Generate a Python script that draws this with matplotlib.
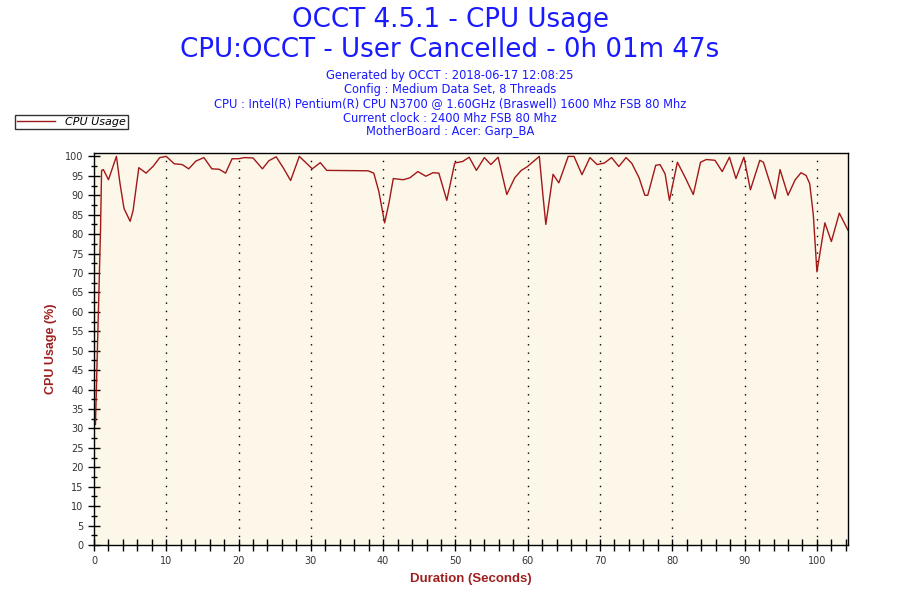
import numpy as np
import matplotlib.pyplot as plt
from matplotlib.ticker import MultipleLocator

# CPU usage samples (seconds, percent)
seconds = [0.2, 0.9, 1.05, 1.3, 2.0, 3.1, 3.6, 4.15, 5.0, 5.4, 6.2, 7.2, 8.2, 9.1, 10.0,
           11.1, 12.2, 13.1, 14.1, 15.2, 16.3, 17.3, 18.2, 19.1, 20.0, 20.8, 22.0, 23.3,
           24.2, 25.2, 26.2, 27.2, 28.4, 30.2, 31.3, 32.2, 37.9, 38.7, 39.4, 40.2, 40.8,
           41.4, 42.8, 43.7, 44.8, 45.9, 46.9, 47.7, 48.8, 49.9, 51.0, 51.9, 52.9, 54.0,
           54.9, 55.9, 57.1, 58.2, 59.1, 59.9, 61.6, 62.1, 62.5, 63.5, 64.3, 65.6, 66.4,
           67.5, 68.6, 69.6, 70.6, 71.6, 72.6, 73.6, 74.4, 75.4, 76.2, 76.6, 77.7, 78.3,
           79.0, 79.6, 80.7, 81.8, 82.9, 83.9, 84.7, 85.9, 86.9, 87.9, 88.8, 89.9, 90.8,
           92.1, 92.6, 94.2, 94.9, 96.0, 97.0, 97.8, 98.5, 99.0, 99.5, 100.0, 101.1, 102.0,
           103.1, 104.3]
usage = [31, 81, 96.4, 96.6, 94.0, 100, 93, 86.6, 83.3, 86, 97.1, 95.7, 97.5, 99.7, 100,
         98.1, 97.9, 96.8, 98.8, 99.7, 96.8, 96.7, 95.7, 99.4, 99.4, 99.7, 99.6, 96.8,
         98.9, 99.9, 97, 93.8, 100, 96.8, 98.4, 96.4, 96.3, 95.7, 91, 82.9, 88, 94.3,
         94.0, 94.5, 96.1, 94.9, 95.8, 95.7, 88.7, 98.3, 98.7, 99.8, 96.4, 99.7, 97.9,
         99.8, 90.2, 94.5, 96.4, 97.3, 100, 90, 82.5, 95.4, 93.2, 100, 100, 95.3, 99.7,
         97.9, 98.3, 99.7, 97.4, 99.7, 98.2, 94.5, 90.0, 90.0, 97.7, 97.9, 95.5, 88.7,
         98.5, 94.5, 90.2, 98.5, 99.2, 99.0, 96.1, 99.8, 94.3, 99.8, 91.4, 99.0, 98.5,
         89.1, 96.6, 90.0, 94.0, 95.8, 95.1, 93.0, 85, 70.3, 82.9, 78.1, 85.4, 81.0]

title_lines = ["OCCT 4.5.1 - CPU Usage", "CPU:OCCT - User Cancelled - 0h 01m 47s"]
info_lines = ["Generated by OCCT : 2018-06-17 12:08:25",
              "Config : Medium Data Set, 8 Threads",
              "CPU : Intel(R) Pentium(R) CPU N3700 @ 1.60GHz (Braswell) 1600 Mhz FSB 80 Mhz",
              "Current clock : 2400 Mhz FSB 80 Mhz",
              "MotherBoard : Acer: Garp_BA"]

blue = '#1a1aff'
red = '#a01818'
label_red = '#9e2020'

plt.rcParams['font.family'] = ['DejaVu Sans']
fig = plt.figure(figsize=(9, 6), dpi=100)
ax = fig.add_axes([94 / 900, 1 - 545 / 600, (848 - 94) / 900, (545 - 153.3) / 600])
ax.set_facecolor('#fdf7e9')

line, = ax.plot(seconds, usage, color=red, lw=1.0, label='CPU Usage')

ax.set_xlim(0, 104.3)
ax.set_ylim(0, 100.8)
ax.xaxis.set_major_locator(MultipleLocator(10))
ax.xaxis.set_minor_locator(MultipleLocator(2))
ax.yaxis.set_major_locator(MultipleLocator(5))
ax.yaxis.set_minor_locator(MultipleLocator(2.5))
ax.tick_params(which='major', direction='inout', length=8, width=1, labelsize=7, colors='black',
               labelcolor='#333333')
ax.tick_params(which='minor', direction='inout', length=5, width=1)
ax.tick_params(axis='x', which='both', length=8)
ax.tick_params(axis='x', pad=4)

for x in range(10, 101, 10):
    ax.axvline(x, color='black', lw=1.0, ls=(0, (1, 5)), zorder=1)

for sp in ax.spines.values():
    sp.set_linewidth(1)

ax.set_xlabel('Duration (Seconds)', color=label_red, fontsize=9.5, fontweight='bold', labelpad=5,
              family=['Liberation Sans Narrow', 'Liberation Sans', 'DejaVu Sans'])
ax.set_ylabel('CPU Usage (%)', color=label_red, fontsize=9, fontweight='bold', labelpad=6,
              family=['Liberation Sans', 'DejaVu Sans'])

fig.text(0.5, 1 - 20 / 600, title_lines[0], ha='center', va='center', color=blue, fontsize=18.8)
fig.text(0.5, 1 - 50 / 600, title_lines[1], ha='center', va='center', color=blue, fontsize=18.8)
for i, s in enumerate(info_lines):
    fig.text(0.5, 1 - (76 + 14 * i) / 600, s, ha='center', va='center', color=blue, fontsize=8.3)

leg = fig.legend(handles=[line], loc='upper left', bbox_to_anchor=(15 / 900, 1 - 115 / 600),
                 frameon=True, fancybox=False, edgecolor='black', fontsize=8,
                 handlelength=3.4, borderpad=0.2, borderaxespad=0, handletextpad=0.9)
leg.get_frame().set_linewidth(1)
for t in leg.get_texts():
    t.set_fontstyle('italic')

fig.savefig('out.png', dpi=100)
